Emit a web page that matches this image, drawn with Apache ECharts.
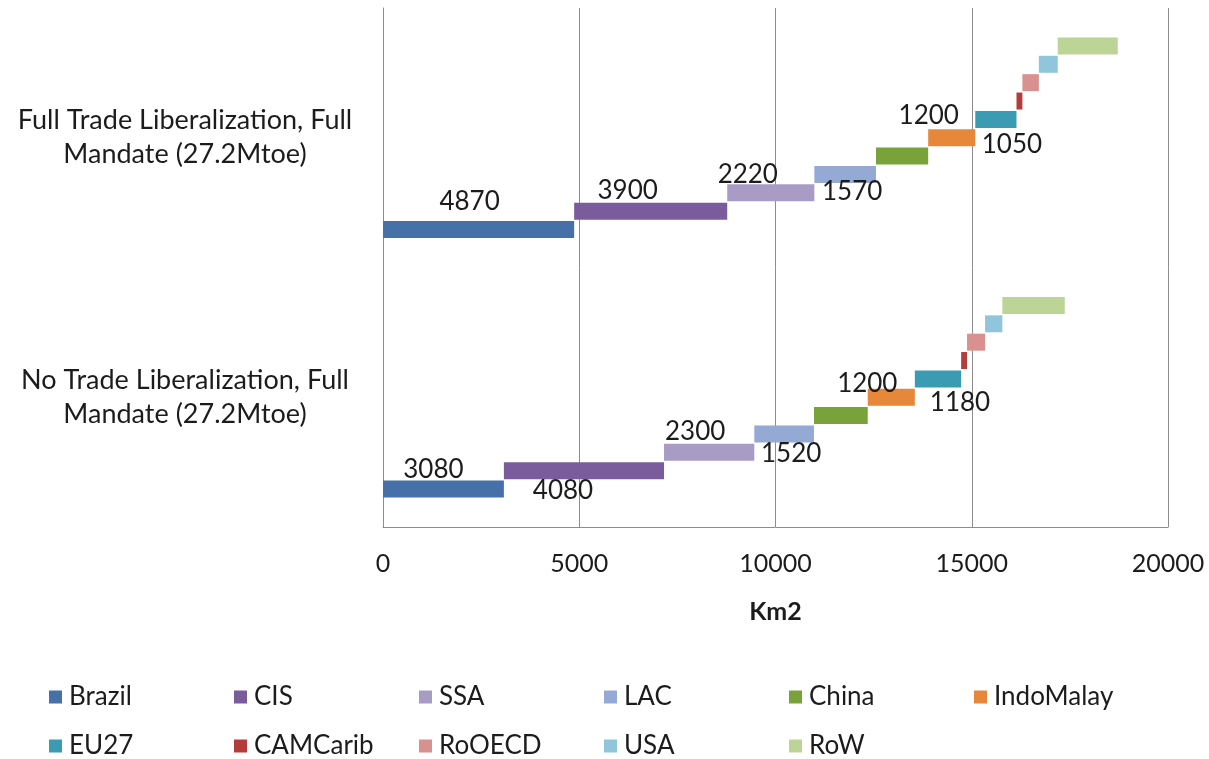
<!DOCTYPE html>
<html>
<head>
<meta charset="utf-8">
<script src="https://cdn.jsdelivr.net/npm/echarts@6/dist/echarts.min.js"></script>
<style>
  html, body { margin: 0; padding: 0; background: #ffffff; }
  #chart { width: 1209px; height: 759px; }
</style>
</head>
<body>
<div id="chart"></div>
<script>
// Scenarios (first one sits at the bottom of the category axis)
const scenarios = [
  'No Trade Liberalization, Full Mandate (27.2Mtoe)',
  'Full Trade Liberalization, Full Mandate (27.2Mtoe)'
];
const regions = ['Brazil', 'CIS', 'SSA', 'LAC', 'China', 'IndoMalay', 'EU27', 'CAMCarib', 'RoOECD', 'USA', 'RoW'];
// Land-use change per region, Km2
const noTradeKm2   = [3080, 4080, 2300, 1520, 1370, 1200, 1180, 150, 460, 440, 1590];
const fullTradeKm2 = [4870, 3900, 2220, 1570, 1330, 1200, 1050, 150, 420, 480, 1530];
const xTicks = [0, 5000, 10000, 15000, 20000];

const regionColors = {
  Brazil: '#4571a8', CIS: '#7a5c9c', SSA: '#a89cc4', LAC: '#94aad5', China: '#7aa23b',
  IndoMalay: '#e6873a', EU27: '#3b9bb3', CAMCarib: '#b43d3b', RoOECD: '#d99190',
  USA: '#90c6db', RoW: '#bcd495'
};

// Which segments carry a value label, and where it sits relative to the bar centre
const labelOffsets = [
  { Brazil: [-10, -19], CIS: [-21, 20], SSA: [-14, -21], LAC: [7, 20], IndoMalay: [-24, -14], EU27: [22, 24] },
  { Brazil: [-9, -28], CIS: [-23, -21], SSA: [-23, -18], LAC: [7, 17], IndoMalay: [-23, -22], EU27: [16, 25] }
];

const FONT = 'Lato, "Open Sans", sans-serif';
const TEXT = '#1c1c1c';
const GRID = '#8c8c8c';

const values = [noTradeKm2, fullTradeKm2];

// Waterfall offsets: each segment starts where the previous region ended
const starts = values.map(arr => {
  const out = [];
  let acc = 0;
  arr.forEach(v => { out.push(acc); acc += v; });
  return out;
});

const series = [];
// Added from the last region to the first so Brazil ends up lowest in each band
for (let i = regions.length - 1; i >= 0; i--) {
  const r = regions[i];
  series.push({
    name: 'offset-' + r,
    type: 'bar',
    stack: 'g' + i,
    barWidth: 17,
    barGap: '8%',
    silent: true,
    itemStyle: { color: 'transparent' },
    emphasis: { disabled: true },
    data: scenarios.map((s, k) => starts[k][i])
  });
  series.push({
    name: r,
    type: 'bar',
    stack: 'g' + i,
    barWidth: 17,
    barGap: '8%',
    itemStyle: { color: regionColors[r] },
    data: scenarios.map((s, k) => {
      const off = labelOffsets[k][r];
      const item = { value: values[k][i] };
      if (off) {
        item.label = {
          show: true,
          position: 'inside',
          offset: off,
          formatter: '{c}',
          color: TEXT,
          fontSize: 26,
          fontFamily: FONT
        };
      }
      return item;
    })
  });
}

const legendBase = {
  orient: 'horizontal',
  icon: 'rect',
  itemWidth: 13,
  itemHeight: 13,
  itemGap: 0,
  selectedMode: false,
  textStyle: {
    fontFamily: FONT,
    fontSize: 26,
    color: TEXT,
    width: 165,
    padding: [0, 0, 0, 2],
    lineHeight: 30
  }
};

const chart = echarts.init(document.getElementById('chart'), null, { renderer: 'canvas' });
chart.setOption({
  animation: false,
  backgroundColor: '#ffffff',
  grid: { left: 383, right: 41, top: 8, bottom: 232, containLabel: false },
  legend: [
    Object.assign({}, legendBase, { left: 44, top: 677, data: regions.slice(0, 6) }),
    Object.assign({}, legendBase, { left: 44, top: 726, data: regions.slice(6) })
  ],
  xAxis: {
    type: 'value',
    min: xTicks[0],
    max: xTicks[xTicks.length - 1],
    interval: xTicks[1] - xTicks[0],
    name: 'Km2',
    nameLocation: 'middle',
    nameGap: 72,
    nameTextStyle: { fontFamily: FONT, fontSize: 25, fontWeight: 'bold', color: TEXT },
    axisLine: { show: true, lineStyle: { color: GRID, width: 1 } },
    axisTick: { show: false },
    splitLine: { show: true, lineStyle: { color: GRID, width: 1 } },
    axisLabel: {
      fontFamily: FONT, fontSize: 25, color: TEXT, margin: 24,
      formatter: v => String(v)
    }
  },
  yAxis: {
    type: 'category',
    data: scenarios,
    axisLine: { show: true, lineStyle: { color: GRID, width: 1 } },
    axisTick: { show: false },
    splitLine: { show: false },
    axisLabel: {
      fontFamily: FONT,
      fontSize: 27,
      color: TEXT,
      lineHeight: 34,
      align: 'center',
      margin: 198,
      formatter: v => v.replace(' Mandate', '\nMandate')
    }
  },
  series: series
});
</script>
</body>
</html>
